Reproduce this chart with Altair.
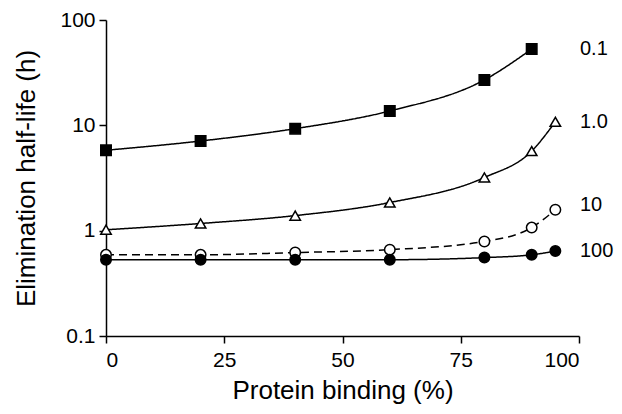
import altair as alt
import pandas as pd

x_vals = [0, 20, 40, 60, 80, 90, 95]
sq_x = [0, 20, 40, 60, 80, 90]
sq_y = [5.8, 7.1, 9.3, 13.7, 27.0, 53.0]
tri_y = [1.02, 1.17, 1.39, 1.85, 3.2, 5.7, 10.8]
oc_y = [0.59, 0.59, 0.62, 0.66, 0.79, 1.07, 1.58]
fc_y = [0.53, 0.53, 0.53, 0.53, 0.555, 0.59, 0.64]

series_names = ["0.1", "1.0", "10", "100"]
label_y = [53.0, 10.8, 1.75, 0.64]

rows = []
for xv, yv in zip(sq_x, sq_y):
    rows.append({"x": xv, "y": yv, "s": "0.1"})
for xv, yv in zip(x_vals, tri_y):
    rows.append({"x": xv, "y": yv, "s": "1.0"})
for xv, yv in zip(x_vals, oc_y):
    rows.append({"x": xv, "y": yv, "s": "10"})
for xv, yv in zip(x_vals, fc_y):
    rows.append({"x": xv, "y": yv, "s": "100"})
df = pd.DataFrame(rows)
labels = pd.DataFrame({"s": series_names, "y": label_y})

font = "Liberation Sans"

xscale = alt.Scale(domain=[0, 100], nice=False)
yscale = alt.Scale(type="log", domain=[0.1, 100], nice=False)

xenc = alt.X("x:Q", scale=xscale, title="Protein binding (%)",
             axis=alt.Axis(values=[0, 25, 50, 75, 100], grid=False, tickSize=7,
                           labelFontSize=21, titleFontSize=26, labelPadding=6,
                           titlePadding=7, domainColor="black", tickColor="black",
                           labelColor="black", titleColor="black", labelFont=font,
                           titleFont=font, titleFontWeight="normal", domainWidth=1.5,
                           tickWidth=1.5))
yenc = alt.Y("y:Q", scale=yscale, title="Elimination half-life (h)",
             axis=alt.Axis(values=[0.1, 1, 10, 100], grid=False, tickSize=7,
                           labelExpr="datum.value >= 1 ? format(datum.value, 'd') : '0.1'",
                           labelFontSize=21, titleFontSize=26, labelPadding=4,
                           titlePadding=20, domainColor="black", tickColor="black",
                           labelColor="black", titleColor="black", labelFont=font,
                           titleFont=font, titleFontWeight="normal", domainWidth=1.5,
                           tickWidth=1.5))

lines = alt.Chart(df).mark_line(interpolate="monotone", color="black", strokeWidth=1.5).encode(
    x=xenc, y=yenc,
    detail="s:N",
    strokeDash=alt.StrokeDash("s:N", scale=alt.Scale(domain=series_names,
                                                      range=[[1, 0], [1, 0], [8, 5], [1, 0]]),
                              legend=None),
)

points = alt.Chart(df).mark_point(stroke="black", strokeWidth=1.5, opacity=1, size=110).encode(
    x=alt.X("x:Q", scale=xscale),
    y=alt.Y("y:Q", scale=yscale),
    shape=alt.Shape("s:N", scale=alt.Scale(domain=series_names,
                                           range=["square", "triangle-up", "circle", "circle"]),
                    legend=None),
    fill=alt.Fill("s:N", scale=alt.Scale(domain=series_names,
                                         range=["black", "white", "white", "black"]),
                  legend=None),
)

text = alt.Chart(labels).mark_text(align="left", baseline="middle", fontSize=20,
                                   font=font, color="black").encode(
    x=alt.value(474),
    y=alt.Y("y:Q", scale=yscale),
    text="s:N",
)

chart = alt.layer(lines, points, text).properties(
    width=473, height=316,
    autosize=alt.AutoSizeParams(type="none"),
    padding={"left": 98, "top": 12, "right": 35, "bottom": 70},
    background="white",
).configure_view(stroke=None)

chart.save("out.html", embed_options={"renderer": "svg", "actions": False})
